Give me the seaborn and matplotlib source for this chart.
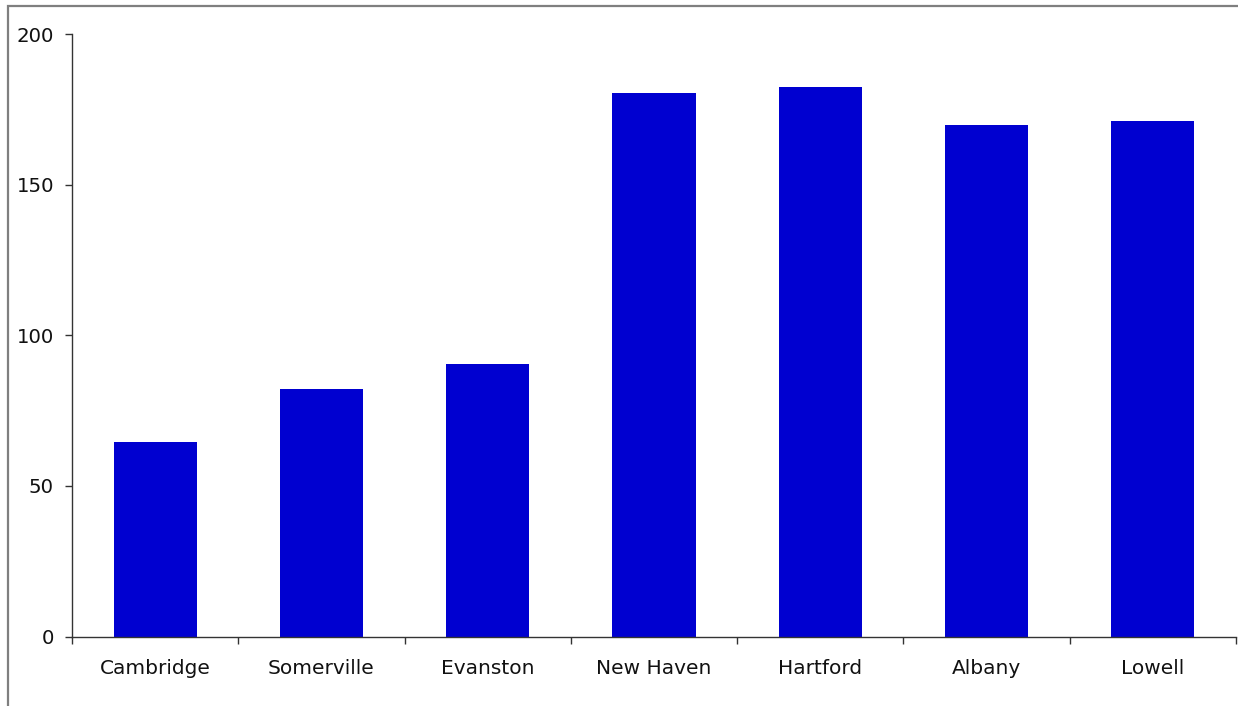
import matplotlib
matplotlib.use("Agg")
import matplotlib.pyplot as plt
from matplotlib.patches import Rectangle
from matplotlib.ticker import FixedLocator
import seaborn as sns
import pandas as pd
import numpy as np

cities = ["Cambridge", "Somerville", "Evanston", "New Haven", "Hartford", "Albany", "Lowell"]
values = [64.6, 82.2, 90.5, 180.4, 182.4, 169.8, 171.1]
y_ticks = [0, 50, 100, 150, 200]

sns.set_theme(style="white")
plt.rcParams["font.family"] = ["DejaVu Sans"]

df = pd.DataFrame({"city": cities, "value": values})

fig = plt.figure(figsize=(12.38, 7.06), dpi=100)
ax = fig.add_axes([72 / 1238, 1 - 636.5 / 706, (1236 - 72) / 1238, (636.5 - 34) / 706])

sns.barplot(data=df, x="city", y="value", color="#0000d0", width=0.5,
            saturation=1, ax=ax, edgecolor="none")

ax.set_xlim(-0.5, len(cities) - 0.5)
ax.set_ylim(0, 200)
ax.set_yticks(y_ticks)
ax.set_xlabel("")
ax.set_ylabel("")

for side in ("top", "right"):
    ax.spines[side].set_visible(False)
for side in ("left", "bottom"):
    ax.spines[side].set_color("#333333")
    ax.spines[side].set_linewidth(1.0)

# category separators as ticks on the x axis, labels stay centered
ax.xaxis.set_minor_locator(FixedLocator(np.arange(-0.5, len(cities), 1.0)))
ax.tick_params(axis="x", which="major", length=0, pad=16, labelsize=14.5, colors="#111111")
ax.tick_params(axis="x", which="minor", length=5, width=1.0, color="#333333", bottom=True)
ax.tick_params(axis="y", which="major", length=5, width=1.0, color="#333333", left=True,
               pad=8, labelsize=14.2, labelcolor="#111111")

# outer frame around the chart area
fig.patches.append(Rectangle((8 / 1238, -0.1), 1.2, (1 - 6 / 706) + 0.1,
                             transform=fig.transFigure, fill=False,
                             edgecolor="#7f7f7f", linewidth=1.6, clip_on=False))

fig.savefig("out.png", dpi=100)
